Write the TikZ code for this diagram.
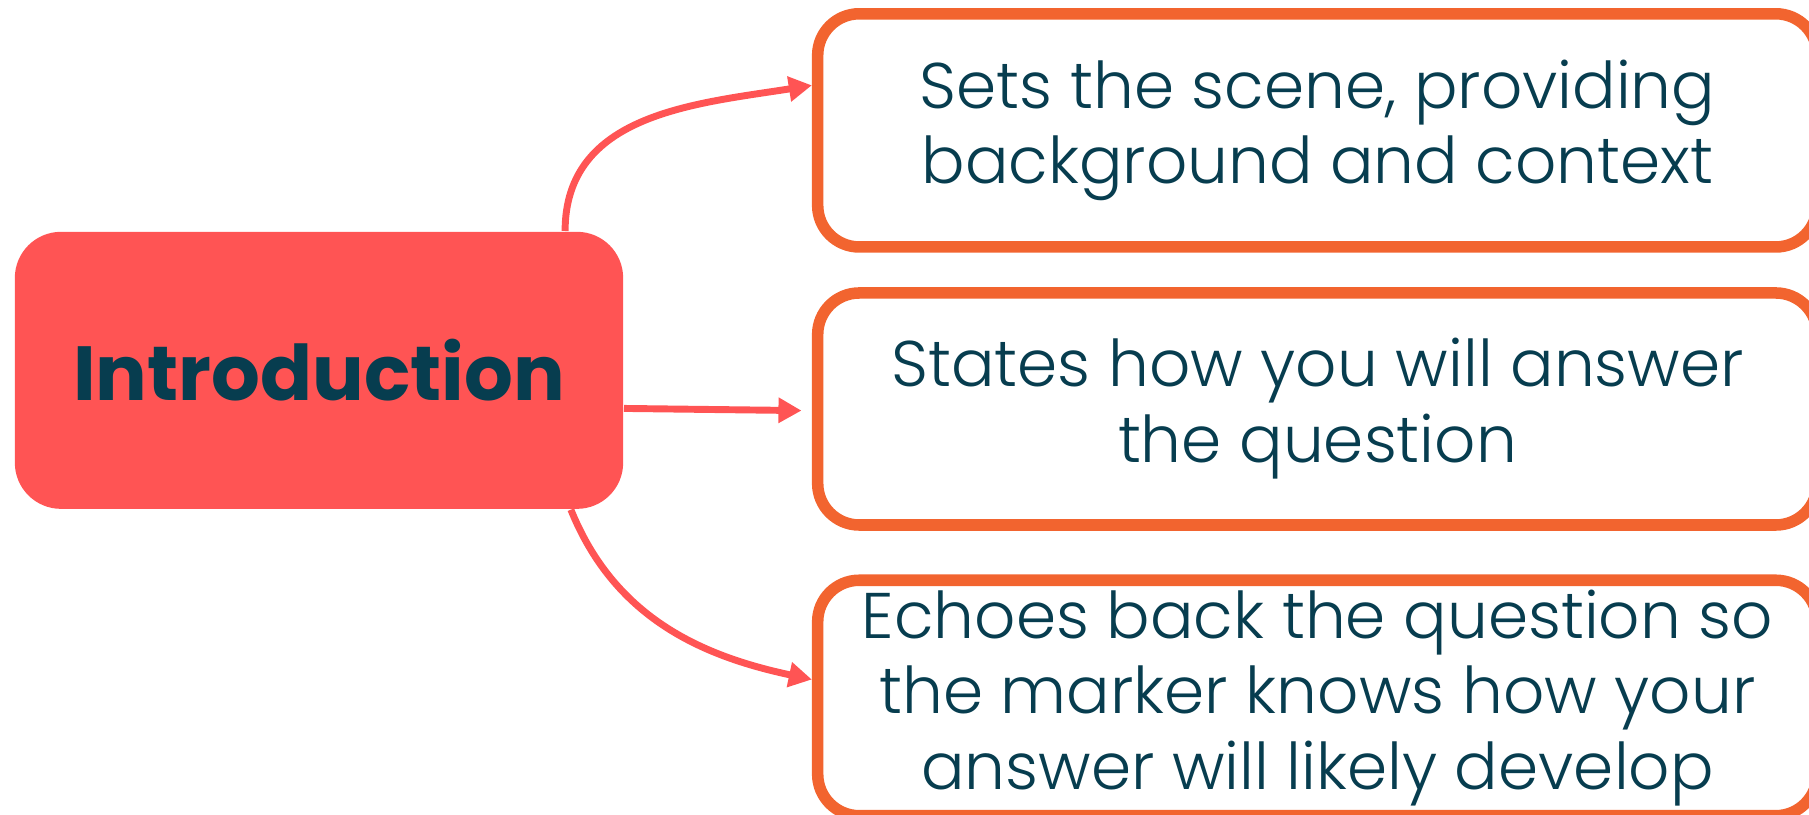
\documentclass[tikz,border=0pt]{standalone}
\usepackage{fontspec}
\setmainfont{Poppins}
\newfontfamily\lightfont{Poppins Light}
\usetikzlibrary{arrows.meta}
\definecolor{coral}{HTML}{FF5454}
\definecolor{boxorange}{HTML}{F2642F}
\definecolor{darkteal}{HTML}{073D4F}
\tikzset{
  introbox/.style={rectangle, rounded corners=0.4cm, fill=coral, draw=none,
    minimum width=5.27cm, minimum height=2.4cm, inner sep=0pt,
    text=darkteal, font=\fontsize{18.9pt}{22pt}\selectfont\bfseries},
  infobox/.style={rectangle, rounded corners=0.36cm, draw=boxorange, fill=white,
    line width=0.1cm, minimum width=8.66cm, inner sep=0pt,
    text=darkteal, align=center,
    font=\lightfont\fontsize{15.9pt}{18.7pt}\selectfont},
  conn/.style={draw=coral, line width=0.06cm,
    -{Triangle[length=0.2cm,width=0.21cm]}},
}
\begin{document}
\begin{tikzpicture}[x=0.01cm,y=-0.01cm]
\useasboundingbox (0,0) rectangle (1568,706);
\node[introbox] (intro) at (276.5,321) {Introduction};
\node[infobox, minimum height=2.02cm] (b1) at (1142,113) {Sets the scene, providing\\background and context};
\node[infobox, minimum height=2.01cm] (b2) at (1142,354.5) {States how you will answer\\the question};
\node[infobox, minimum height=2.04cm] (b3) at (1142,605) {Echoes back the question so\\the marker knows how your\\answer will likely develop};
\draw[conn] ([xshift=-0.51cm]intro.north east) to[out=90,in=189,looseness=1.05] ([yshift=0.39cm]b1.west);
\draw[conn, shorten >=0.09cm] ([yshift=-0.33cm]intro.east) -- ([yshift=-0.015cm]b2.west);
\draw[conn] ([xshift=-0.46cm]intro.south east) to[out=-68,in=168,looseness=1.0] ([yshift=0.16cm]b3.west);
\end{tikzpicture}
\end{document}
